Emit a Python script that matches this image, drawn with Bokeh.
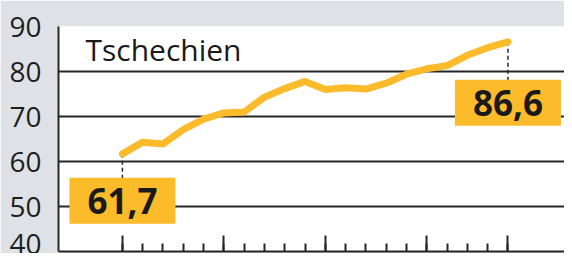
from bokeh.plotting import figure
from bokeh.models import Label, FixedTicker, Range1d
from bokeh.embed import file_html
from bokeh.resources import INLINE

# ---- data ----
title = "Tschechien"
years = list(range(2000, 2020))
values = [61.7, 64.3, 63.9, 67.1, 69.4, 70.8, 71.0, 74.3, 76.2, 77.8,
          76.0, 76.4, 76.1, 77.4, 79.4, 80.6, 81.3, 83.6, 85.3, 86.6]
y_ticks = [40, 50, 60, 70, 80, 90]
x_major = [2000, 2005, 2010, 2015, 2019]
first_label = "61,7"
last_label = "86,6"

YELLOW = "#fbbb2b"
DARK = "#262626"
BG = "#dee2e6"

W, H = 564, 253
left, top, bottom = 58, 26, 2
frame_h = H - top - bottom
y_lo, y_hi = 40, 90
units_per_px = (y_hi - y_lo) / frame_h
px_per_year = 20.29
x_lo = 1996.85
x_hi = x_lo + (W - left) / px_per_year

p = figure(width=W, height=H,
           x_range=Range1d(x_lo, x_hi), y_range=Range1d(y_lo, y_hi),
           output_backend="svg", toolbar_location=None,
           min_border_left=left, min_border_right=0,
           min_border_top=top, min_border_bottom=bottom)
p.border_fill_color = BG
p.background_fill_color = "white"
p.outline_line_color = None

# grid
p.xgrid.visible = False
p.ygrid.ticker = FixedTicker(ticks=y_ticks)
p.ygrid.grid_line_color = DARK
p.ygrid.grid_line_width = 2

# y axis
p.yaxis.ticker = FixedTicker(ticks=y_ticks)
p.yaxis.major_tick_in = 0
p.yaxis.major_tick_out = 0
p.yaxis.minor_tick_line_color = None
p.yaxis.axis_line_color = DARK
p.yaxis.axis_line_width = 2
p.yaxis.major_label_standoff = 17
p.yaxis.major_label_text_font = "Open Sans"
p.yaxis.major_label_text_font_size = "28px"
p.yaxis.major_label_text_color = "#1e1e1e"

# x axis
p.xaxis.ticker = FixedTicker(ticks=x_major, minor_ticks=years)
p.xaxis.axis_line_color = DARK
p.xaxis.axis_line_width = 2
p.xaxis.major_tick_in = 16
p.xaxis.major_tick_out = 0
p.xaxis.minor_tick_in = 8
p.xaxis.minor_tick_out = 0
p.xaxis.major_tick_line_color = DARK
p.xaxis.minor_tick_line_color = DARK
p.xaxis.major_tick_line_width = 2
p.xaxis.minor_tick_line_width = 2
p.xaxis.major_label_overrides = {t: "" for t in x_major}
p.xaxis.major_label_text_font_size = "1px"
p.xaxis.major_label_standoff = 0

# dashed connectors
off_first = 47
off_last = 61
p.segment(x0=[years[0], years[-1]], y0=[values[0], values[-1]],
          x1=[years[0], years[-1]],
          y1=[values[0] - off_first * units_per_px, values[-1] - off_last * units_per_px],
          line_color=DARK, line_width=1.5, line_dash="4 3")

# line
p.line(years, values, line_color=YELLOW, line_width=7,
       line_cap="round", line_join="round")

# value labels
for yr, v, txt, off in [(years[0], values[0], first_label, off_first),
                        (years[-1], values[-1], last_label, off_last)]:
    p.add_layout(Label(x=yr, y=v, y_offset=-off, text=txt,
                       text_align="center", text_baseline="middle",
                       text_font="Open Sans", text_font_style="bold",
                       text_font_size="35px", text_color="#1a1a1a",
                       background_fill_color=YELLOW,
                       padding=dict(left=18, right=18, top=10, bottom=10)))

# title inside plot
p.add_layout(Label(x=1998.18, y=84.96, text=title, text_align="left",
                   text_baseline="alphabetic", text_font="Open Sans",
                   text_font_size="30px", text_color="#1a1a1a"))

open("out.html", "w").write(file_html(p, INLINE))
